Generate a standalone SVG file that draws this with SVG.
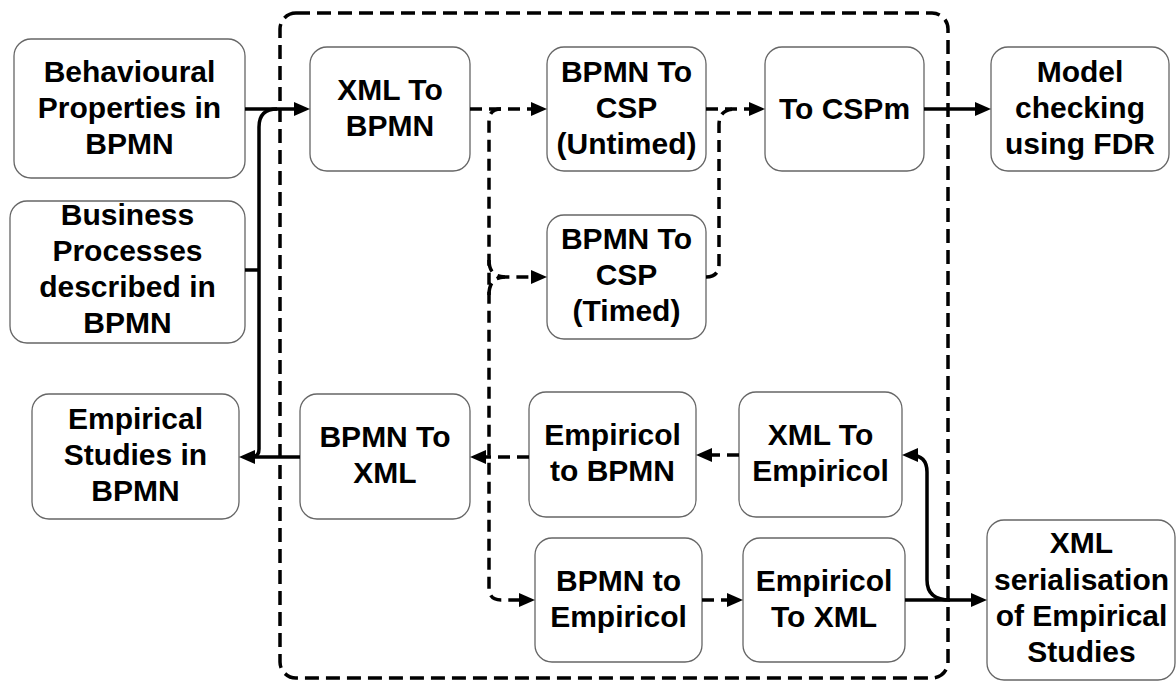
<svg xmlns="http://www.w3.org/2000/svg" width="1176" height="681" viewBox="0 0 1176 681">
  <defs>
    <marker id="arrow" markerUnits="userSpaceOnUse" markerWidth="16" markerHeight="14" refX="11" refY="7" orient="auto">
      <path d="M0,0 L16,7 L0,14 z" fill="#000"/>
    </marker>
  </defs>
  <style>
    .node rect { fill: #fff; stroke: #666; stroke-width: 1.3; }
    .node text { font-family: "Liberation Sans", Arial, sans-serif; font-weight: bold; font-size: 30px; fill: #000; text-anchor: middle; }
    .solid { fill: none; stroke: #000; stroke-width: 3.5; }
    .dash { fill: none; stroke: #000; stroke-width: 3.5; stroke-dasharray: 12 7; }
    .frame { fill: none; stroke: #000; stroke-width: 3.5; stroke-dasharray: 14 7; }
  </style>
  <rect width="1176" height="681" fill="#fff"/>

  <!-- tool boundary -->
  <rect id="boundary" class="frame" x="280" y="13" width="668" height="665" rx="16"/>

  <g id="n-behavioural" class="node">
    <rect x="14" y="39" width="231" height="139" rx="17"/>
    <text x="129.5" y="81.5">Behavioural</text>
    <text x="129.5" y="117.5">Properties in</text>
    <text x="129.5" y="153.5">BPMN</text>
  </g>
  <g id="n-business" class="node">
    <rect x="10" y="201" width="235" height="142" rx="17"/>
    <text x="127.5" y="224.5">Business</text>
    <text x="127.5" y="260.5">Processes</text>
    <text x="127.5" y="296.5">described in</text>
    <text x="127.5" y="332.5">BPMN</text>
  </g>
  <g id="n-xml2bpmn" class="node">
    <rect x="310" y="47" width="160" height="124" rx="17"/>
    <text x="390" y="100">XML To</text>
    <text x="390" y="136">BPMN</text>
  </g>
  <g id="n-untimed" class="node">
    <rect x="547" y="47" width="159" height="124" rx="17"/>
    <text x="626.5" y="81.5">BPMN To</text>
    <text x="626.5" y="117.5">CSP</text>
    <text x="626.5" y="153.5">(Untimed)</text>
  </g>
  <g id="n-cspm" class="node">
    <rect x="765" y="47" width="159" height="124" rx="17"/>
    <text x="844.5" y="118.5">To CSPm</text>
  </g>
  <g id="n-fdr" class="node">
    <rect x="991" y="47" width="178" height="124" rx="17"/>
    <text x="1080" y="81.5">Model</text>
    <text x="1080" y="117.5">checking</text>
    <text x="1080" y="153.5">using FDR</text>
  </g>
  <g id="n-timed" class="node">
    <rect x="547" y="215" width="159" height="124" rx="17"/>
    <text x="626.5" y="249">BPMN To</text>
    <text x="626.5" y="285">CSP</text>
    <text x="626.5" y="321">(Timed)</text>
  </g>
  <g id="n-empirical" class="node">
    <rect x="32" y="394" width="207" height="125" rx="17"/>
    <text x="135.5" y="429">Empirical</text>
    <text x="135.5" y="465">Studies in</text>
    <text x="135.5" y="501">BPMN</text>
  </g>
  <g id="n-bpmn2xml" class="node">
    <rect x="300" y="394" width="170" height="125" rx="17"/>
    <text x="385" y="447">BPMN To</text>
    <text x="385" y="483">XML</text>
  </g>
  <g id="n-emp2bpmn" class="node">
    <rect x="529" y="392" width="167" height="125" rx="17"/>
    <text x="612.5" y="445">Empiricol</text>
    <text x="612.5" y="481">to BPMN</text>
  </g>
  <g id="n-xml2emp" class="node">
    <rect x="739" y="392" width="163" height="125" rx="17"/>
    <text x="820.5" y="445">XML To</text>
    <text x="820.5" y="481">Empiricol</text>
  </g>
  <g id="n-bpmn2emp" class="node">
    <rect x="535" y="538" width="167" height="124" rx="17"/>
    <text x="618.5" y="590.5">BPMN to</text>
    <text x="618.5" y="626.5">Empiricol</text>
  </g>
  <g id="n-emp2xml" class="node">
    <rect x="743" y="538" width="162" height="124" rx="17"/>
    <text x="824" y="590.5">Empiricol</text>
    <text x="824" y="626.5">To XML</text>
  </g>
  <g id="n-serial" class="node">
    <rect x="987" y="520" width="188" height="160" rx="17"/>
    <text x="1081.5" y="553">XML</text>
    <text x="1081.5" y="590">serialisation</text>
    <text x="1081.5" y="626">of Empirical</text>
    <text x="1081.5" y="662">Studies</text>
  </g>

  <g id="connectors">
    <!-- inputs into the tool -->
    <path class="solid" d="M245,109 H305" marker-end="url(#arrow)"/>
    <path class="solid" d="M245,270 H259"/>
    <path class="solid" d="M277,109 Q259,109 259,127 V449 Q259,457 251,457"/>
    <path class="solid" d="M300,457 H244" marker-end="url(#arrow)"/>
    <!-- untimed / timed CSP branch -->
    <path class="dash" d="M470,109 H542" marker-end="url(#arrow)"/>
    <path class="dash" d="M501,109 Q489,109 489,121 V588 Q489,600 501,600 H530" marker-end="url(#arrow)"/>
    <path class="dash" d="M489,260 Q489,277 505,277 H542" marker-end="url(#arrow)"/>
    <path class="dash" d="M489,295 Q489,277 505,277"/>
    <path class="dash" d="M706,109 H760" marker-end="url(#arrow)"/>
    <path class="dash" d="M706,277 Q719,277 719,264 V125 Q719,109 735,109"/>
    <path class="solid" d="M924,109 H986" marker-end="url(#arrow)"/>
    <!-- empirical studies chain -->
    <path class="dash" d="M529,457 H475" marker-end="url(#arrow)"/>
    <path class="dash" d="M739,455 H701" marker-end="url(#arrow)"/>
    <path class="dash" d="M702,600 H738" marker-end="url(#arrow)"/>
    <path class="solid" d="M905,600 H982" marker-end="url(#arrow)"/>
    <path class="solid" d="M950,600 Q927,600 927,580 V472 Q927,455 910,455 H907" marker-end="url(#arrow)"/>
  </g>
</svg>
